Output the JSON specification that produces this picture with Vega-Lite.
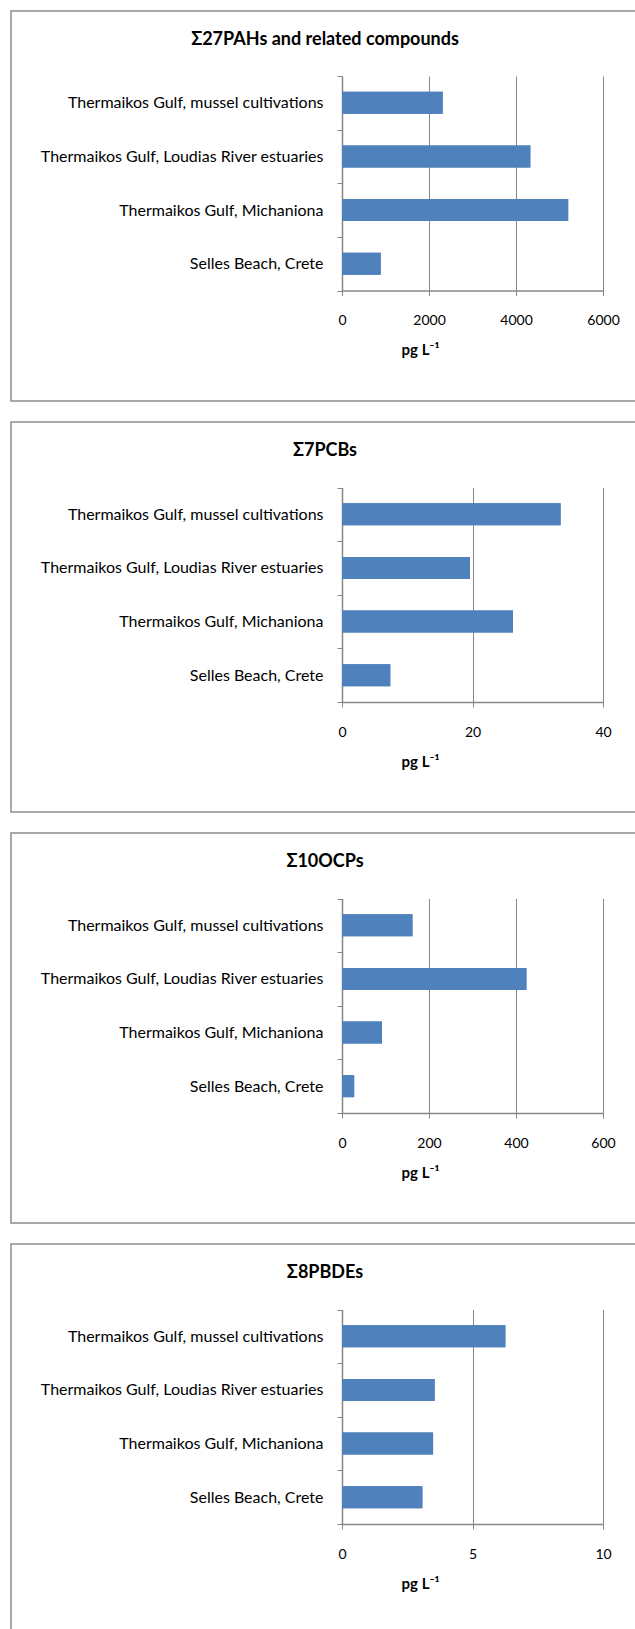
{
  "$schema": "https://vega.github.io/schema/vega-lite/v6.json",
  "background": "white",
  "padding": {"left": 10, "top": 2, "right": 0, "bottom": 0},
  "spacing": 11,
  "datasets": {
    "rows": [
      {"panel": "PAH", "site": "Thermaikos Gulf, mussel cultivations", "value": 2315},
      {"panel": "PAH", "site": "Thermaikos Gulf, Loudias River estuaries", "value": 4330},
      {"panel": "PAH", "site": "Thermaikos Gulf, Michaniona", "value": 5200},
      {"panel": "PAH", "site": "Selles Beach, Crete", "value": 890},
      {"panel": "PCB", "site": "Thermaikos Gulf, mussel cultivations", "value": 33.5},
      {"panel": "PCB", "site": "Thermaikos Gulf, Loudias River estuaries", "value": 19.6},
      {"panel": "PCB", "site": "Thermaikos Gulf, Michaniona", "value": 26.2},
      {"panel": "PCB", "site": "Selles Beach, Crete", "value": 7.4},
      {"panel": "OCP", "site": "Thermaikos Gulf, mussel cultivations", "value": 162},
      {"panel": "OCP", "site": "Thermaikos Gulf, Loudias River estuaries", "value": 424},
      {"panel": "OCP", "site": "Thermaikos Gulf, Michaniona", "value": 92},
      {"panel": "OCP", "site": "Selles Beach, Crete", "value": 28},
      {"panel": "PBDE", "site": "Thermaikos Gulf, mussel cultivations", "value": 6.26},
      {"panel": "PBDE", "site": "Thermaikos Gulf, Loudias River estuaries", "value": 3.55},
      {"panel": "PBDE", "site": "Thermaikos Gulf, Michaniona", "value": 3.49},
      {"panel": "PBDE", "site": "Selles Beach, Crete", "value": 3.08}
    ]
  },
  "resolve": {"scale": {"x": "independent", "y": "independent"}},
  "vconcat": [
    {
      "width": 627, "height": 390,
      "data": {"name": "rows"},
      "transform": [{"filter": "datum.panel === 'PAH'"}],
      "encoding": {
        "y": {"field": "site", "type": "nominal",
          "sort": ["Thermaikos Gulf, mussel cultivations", "Thermaikos Gulf, Loudias River estuaries", "Thermaikos Gulf, Michaniona", "Selles Beach, Crete"],
          "scale": {"range": [65, 279.5], "paddingInner": 0, "paddingOuter": 0},
          "axis": {"offset": -331, "title": null}}
      },
      "resolve": {"axis": {"x": "independent"}},
      "layer": [
        {
          "mark": {"type": "bar", "fill": "#4F81BD", "height": {"band": 0.41}},
          "encoding": {
            "x": {"field": "value", "type": "quantitative",
              "scale": {"domain": [0, 6000], "range": [331, 592], "nice": false},
              "axis": {"offset": -110.5, "values": [0, 2000, 4000, 6000], "format": "d", "grid": false,
                "title": "pg L⁻¹", "titleX": 409, "titleY": 64}}
          }
        },
        {
          "mark": {"type": "bar", "fill": "#4F81BD", "height": {"band": 0.41}},
          "encoding": {
            "x": {"field": "value", "type": "quantitative",
              "axis": {"orient": "top", "values": [0, 2000, 4000, 6000], "grid": true, "domain": false, "ticks": false, "labels": false,
                "title": "Σ27PAHs and related compounds", "titleX": 313.5, "titleY": 33, "titleFontSize": 18}}
          }
        }
      ]
    },
    {
      "width": 627, "height": 390,
      "data": {"name": "rows"},
      "transform": [{"filter": "datum.panel === 'PCB'"}],
      "encoding": {
        "y": {"field": "site", "type": "nominal",
          "sort": ["Thermaikos Gulf, mussel cultivations", "Thermaikos Gulf, Loudias River estuaries", "Thermaikos Gulf, Michaniona", "Selles Beach, Crete"],
          "scale": {"range": [65.5, 280], "paddingInner": 0, "paddingOuter": 0},
          "axis": {"offset": -331, "title": null}}
      },
      "resolve": {"axis": {"x": "independent"}},
      "layer": [
        {
          "mark": {"type": "bar", "fill": "#4F81BD", "height": {"band": 0.41}},
          "encoding": {
            "x": {"field": "value", "type": "quantitative",
              "scale": {"domain": [0, 40], "range": [331, 592], "nice": false},
              "axis": {"offset": -110, "values": [0, 20, 40], "format": "d", "grid": false,
                "title": "pg L⁻¹", "titleX": 409, "titleY": 64}}
          }
        },
        {
          "mark": {"type": "bar", "fill": "#4F81BD", "height": {"band": 0.41}},
          "encoding": {
            "x": {"field": "value", "type": "quantitative",
              "axis": {"orient": "top", "values": [0, 20, 40], "grid": true, "domain": false, "ticks": false, "labels": false,
                "title": "Σ7PCBs", "titleX": 313.5, "titleY": 33, "titleFontSize": 18}}
          }
        }
      ]
    },
    {
      "width": 627, "height": 390,
      "data": {"name": "rows"},
      "transform": [{"filter": "datum.panel === 'OCP'"}],
      "encoding": {
        "y": {"field": "site", "type": "nominal",
          "sort": ["Thermaikos Gulf, mussel cultivations", "Thermaikos Gulf, Loudias River estuaries", "Thermaikos Gulf, Michaniona", "Selles Beach, Crete"],
          "scale": {"range": [65.5, 280], "paddingInner": 0, "paddingOuter": 0},
          "axis": {"offset": -331, "title": null}}
      },
      "resolve": {"axis": {"x": "independent"}},
      "layer": [
        {
          "mark": {"type": "bar", "fill": "#4F81BD", "height": {"band": 0.41}},
          "encoding": {
            "x": {"field": "value", "type": "quantitative",
              "scale": {"domain": [0, 600], "range": [331, 592], "nice": false},
              "axis": {"offset": -110, "values": [0, 200, 400, 600], "format": "d", "grid": false,
                "title": "pg L⁻¹", "titleX": 409, "titleY": 64}}
          }
        },
        {
          "mark": {"type": "bar", "fill": "#4F81BD", "height": {"band": 0.41}},
          "encoding": {
            "x": {"field": "value", "type": "quantitative",
              "axis": {"orient": "top", "values": [0, 200, 400, 600], "grid": true, "domain": false, "ticks": false, "labels": false,
                "title": "Σ10OCPs", "titleX": 313.5, "titleY": 33, "titleFontSize": 18}}
          }
        }
      ]
    },
    {
      "width": 627, "height": 390,
      "data": {"name": "rows"},
      "transform": [{"filter": "datum.panel === 'PBDE'"}],
      "encoding": {
        "y": {"field": "site", "type": "nominal",
          "sort": ["Thermaikos Gulf, mussel cultivations", "Thermaikos Gulf, Loudias River estuaries", "Thermaikos Gulf, Michaniona", "Selles Beach, Crete"],
          "scale": {"range": [65.5, 280], "paddingInner": 0, "paddingOuter": 0},
          "axis": {"offset": -331, "title": null}}
      },
      "resolve": {"axis": {"x": "independent"}},
      "layer": [
        {
          "mark": {"type": "bar", "fill": "#4F81BD", "height": {"band": 0.41}},
          "encoding": {
            "x": {"field": "value", "type": "quantitative",
              "scale": {"domain": [0, 10], "range": [331, 592], "nice": false},
              "axis": {"offset": -110, "values": [0, 5, 10], "format": "d", "grid": false,
                "title": "pg L⁻¹", "titleX": 409, "titleY": 64}}
          }
        },
        {
          "mark": {"type": "bar", "fill": "#4F81BD", "height": {"band": 0.41}},
          "encoding": {
            "x": {"field": "value", "type": "quantitative",
              "axis": {"orient": "top", "values": [0, 5, 10], "grid": true, "domain": false, "ticks": false, "labels": false,
                "title": "Σ8PBDEs", "titleX": 313.5, "titleY": 33, "titleFontSize": 18}}
          }
        }
      ]
    }
  ],
  "config": {
    "font": "Lato",
    "view": {"stroke": "#8c8c8c", "strokeWidth": 1.5},
    "axisY": {"tickBand": "extent", "tickSize": 5, "labelPadding": 14, "grid": false,
      "domainColor": "#868686", "domainWidth": 1.5, "tickColor": "#868686", "tickWidth": 1,
      "labelFont": "Lato", "labelFontSize": 16, "labelColor": "#000000", "labelLimit": 500},
    "axisX": {"gridColor": "#868686", "gridWidth": 1,
      "domainColor": "#868686", "domainWidth": 1.5, "tickColor": "#868686", "tickWidth": 1, "tickSize": 5,
      "labelFont": "Lato", "labelFontSize": 14, "labelColor": "#000000", "labelFlush": false,
      "labelBaseline": "alphabetic", "labelPadding": 29,
      "titleFont": "Lato", "titleFontSize": 15, "titleFontWeight": "bold", "titleColor": "#000000",
      "titleAlign": "center", "titleBaseline": "alphabetic", "titleAngle": 0}
  }
}
